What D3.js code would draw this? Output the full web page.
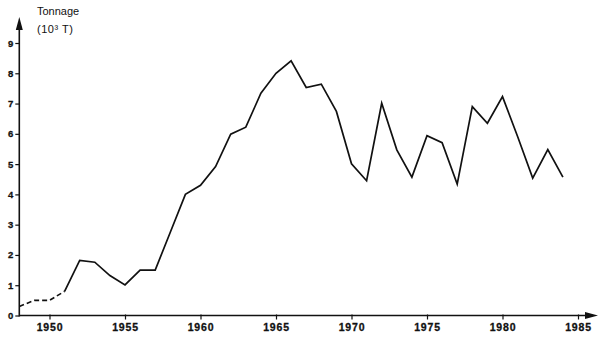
<!DOCTYPE html>
<html>
<head>
<meta charset="utf-8">
<script src="https://cdn.jsdelivr.net/npm/d3@7"></script>
<style>
  body { margin: 0; background: #fff; }
  svg { display: block; font-family: "Liberation Sans", Arial, Helvetica, sans-serif; }
</style>
</head>
<body>
<div id="chart"></div>
<script>
// early (estimated) years, drawn dashed
const earlyYears = [1948, 1949, 1950, 1951];
const earlyTonnage = [0.3, 0.5, 0.5, 0.8];

// recorded years, solid line
const years = [1951, 1952, 1953, 1954, 1955, 1956, 1957, 1958, 1959, 1960,
               1961, 1962, 1963, 1964, 1965, 1966, 1967, 1968, 1969, 1970,
               1971, 1972, 1973, 1974, 1975, 1976, 1977, 1978, 1979, 1980,
               1981, 1982, 1983, 1984];
const tonnage = [0.8, 1.82, 1.76, 1.32, 1.01, 1.5, 1.5, 2.75, 4.0, 4.3,
                 4.92, 5.99, 6.22, 7.34, 8.0, 8.41, 7.53, 7.64, 6.74, 5.01,
                 4.45, 7.01, 5.47, 4.57, 5.94, 5.71, 4.34, 6.9, 6.35, 7.23,
                 5.91, 4.54, 5.48, 4.57];

const xTicks = [1950, 1955, 1960, 1965, 1970, 1975, 1980, 1985];
const yTicks = [0, 1, 2, 3, 4, 5, 6, 7, 8, 9];

var width = 600, height = 339;

var svg = d3.select("#chart")
    .append("svg")
    .attr("width", width)
    .attr("height", height);

const x = d3.scaleLinear()
    .domain([1950, 1985])
    .range([49.5, 578]);

const y = d3.scaleLinear()
    .domain([0, 9])
    .range([315.5, 43]);

const x0 = x(1948);   // where the y axis stands
const y0 = y(0);

// axis lines with arrow heads
svg.append("line")
    .attr("x1", x0).attr("y1", y0 + 1)
    .attr("x2", x0).attr("y2", 26)
    .attr("stroke", "#111").attr("stroke-width", 1.6);
svg.append("path")
    .attr("d", `M${x0},17 L${x0 - 3.5},30 L${x0 + 3.5},30 Z`)
    .attr("fill", "#111");

svg.append("line")
    .attr("x1", x0).attr("y1", y0)
    .attr("x2", 590).attr("y2", y0)
    .attr("stroke", "#111").attr("stroke-width", 1.4);
svg.append("path")
    .attr("d", `M598,${y0} L585,${y0 - 3.5} L585,${y0 + 3.5} Z`)
    .attr("fill", "#111");

// X axis ticks and labels
const xAxis = svg.append("g")
    .attr("transform", `translate(0,${y0})`)
    .call(d3.axisBottom(x).tickValues(xTicks).tickFormat(d3.format("d")).tickSize(4));
xAxis.select(".domain").remove();
xAxis.selectAll(".tick line").attr("stroke", "#111").attr("stroke-width", 1.2).attr("y1", -1);
xAxis.selectAll(".tick text")
    .attr("y", 15.5)
    .attr("dy", null)
    .attr("fill", "#111")
    .attr("stroke", "#111")
    .attr("stroke-width", 0.3)
    .style("font-size", "10.5px")
    .style("font-weight", "bold")
    .style("letter-spacing", "0.8px");

// Y axis ticks and labels
const yAxis = svg.append("g")
    .attr("transform", `translate(${x0},0)`)
    .call(d3.axisLeft(y).tickValues(yTicks).tickSize(4).tickPadding(2));
yAxis.select(".domain").remove();
yAxis.selectAll(".tick line").attr("stroke", "#111").attr("stroke-width", 1.2);
yAxis.selectAll(".tick text")
    .attr("fill", "#111")
    .attr("stroke", "#111")
    .attr("stroke-width", 0.3)
    .style("font-size", "9.5px")
    .style("font-weight", "bold");

// Line generator
const line = d3.line()
    .x(d => x(d[0]))
    .y(d => y(d[1]));

svg.append("path")
    .datum(d3.zip(earlyYears, earlyTonnage))
    .attr("fill", "none")
    .attr("stroke", "#111")
    .attr("stroke-width", 1.6)
    .attr("stroke-dasharray", "5,3")
    .attr("d", line);

svg.append("path")
    .datum(d3.zip(years, tonnage))
    .attr("fill", "none")
    .attr("stroke", "#111")
    .attr("stroke-width", 1.7)
    .attr("stroke-linejoin", "miter")
    .attr("d", line);

// axis title
svg.append("text")
    .attr("x", 37)
    .attr("y", 15)
    .attr("fill", "#111")
    .style("font-size", "11px")
    .text("Tonnage");

svg.append("text")
    .attr("x", 37)
    .attr("y", 33)
    .attr("fill", "#111")
    .style("font-size", "11px")
    .style("letter-spacing", "0.5px")
    .text("(10³  T)");
</script>
</body>
</html>
